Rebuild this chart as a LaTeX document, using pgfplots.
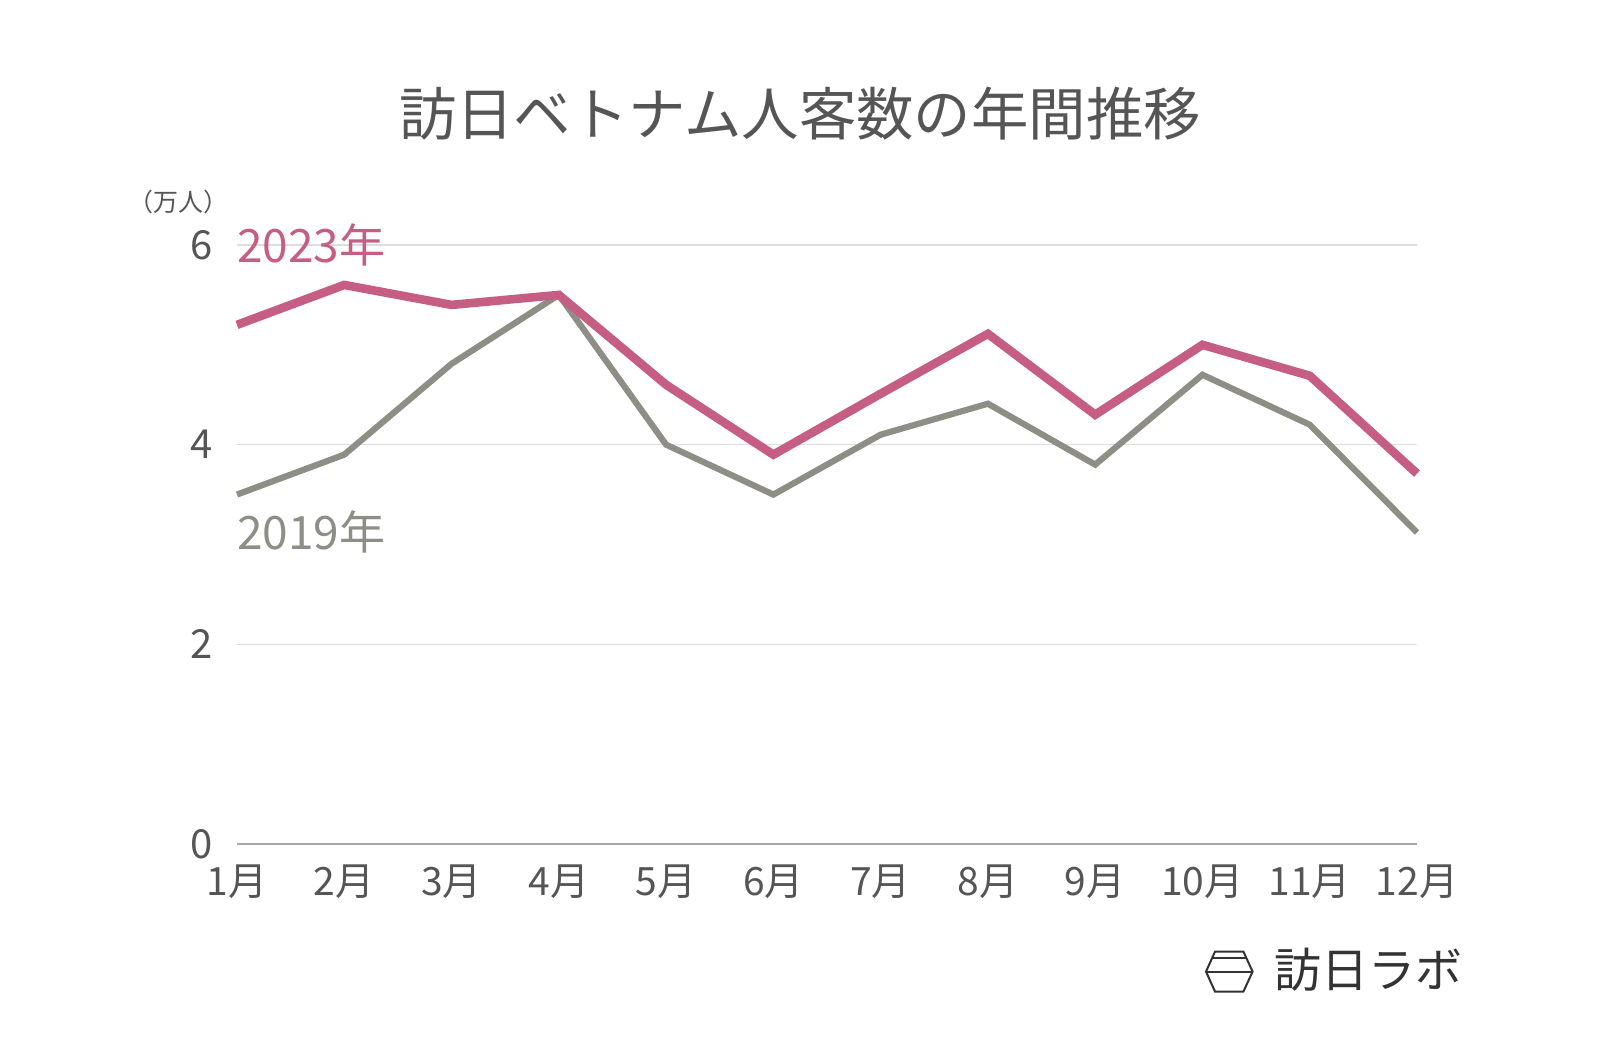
\documentclass[border=0pt]{standalone}
\usepackage{pgfplots}
\pgfplotsset{compat=1.18}
\usepackage{fontspec}
\setmainfont{Noto Sans CJK JP}
\definecolor{pinkline}{HTML}{C55E82}
\definecolor{grayline}{HTML}{8F8E86}
\definecolor{txt}{HTML}{555555}
\definecolor{gridc}{HTML}{DDDDDD}
\definecolor{axisc}{HTML}{A8A8A8}
\definecolor{logoc}{HTML}{333333}
\begin{document}
\begin{tikzpicture}
\path[use as bounding box] (0,0) rectangle (800pt,524pt);
\node[txt, font=\fontsize{28.7pt}{28.7pt}\selectfont] at (400pt,467pt) {訪日ベトナム人客数の年間推移};
\node[txt, font=\fontsize{12.5pt}{12.5pt}\selectfont] at (89pt,423pt) {（万人）};
\begin{axis}[
  at={(118.5pt,102pt)}, anchor=south west,
  scale only axis, width=590pt, height=299.5pt,
  xmin=1, xmax=12, ymin=0, ymax=6,
  clip=false,
  /pgf/number format/assume math mode=true,
  axis line style={draw=none},
  major tick length=0pt,
  xtick={1,...,12},
  xticklabels={1月,2月,3月,4月,5月,6月,7月,8月,9月,10月,11月,12月},
  ytick={2,4,6},
  extra y ticks={0},
  extra y tick style={grid style={axisc, line width=0.8pt}},
  ymajorgrids,
  grid style={gridc, line width=0.6pt},
  yticklabel style={txt, font=\fontsize{20pt}{20pt}\selectfont, anchor=east, inner sep=0pt, xshift=-12pt},
  xticklabel style={txt, font=\fontsize{19.5pt}{19.5pt}\selectfont, anchor=north, inner sep=0pt, yshift=-10pt},
]
\addplot[grayline, line width=3.1pt, line join=miter] coordinates {
(1,3.50) (2,3.90) (3,4.81) (4,5.50) (5,4.00) (6,3.50) (7,4.10) (8,4.41) (9,3.80) (10,4.70) (11,4.20) (12,3.12)};
\addplot[pinkline, line width=4.3pt, line join=miter] coordinates {
(1,5.20) (2,5.60) (3,5.40) (4,5.50) (5,4.60) (6,3.90) (7,4.51) (8,5.11) (9,4.30) (10,5.00) (11,4.69) (12,3.71)};
\node[pinkline, anchor=base west, inner sep=0pt, font=\fontsize{23pt}{23pt}\selectfont] at (axis cs:1,5.82) {2023年};
\node[grayline, anchor=base west, inner sep=0pt, font=\fontsize{23pt}{23pt}\selectfont] at (axis cs:1,2.95) {2019年};
\end{axis}
% logo
\begin{scope}[logoc, line width=1pt, line join=miter]
\draw (603pt,38.2pt) -- (607.5pt,48.2pt) -- (621.7pt,48.2pt) -- (626.3pt,38.2pt) -- (621.7pt,28.2pt) -- (607.5pt,28.2pt) -- cycle;
\draw (606.2pt,45.2pt) -- (623pt,45.2pt);
\draw (603pt,38.2pt) -- (626.3pt,38.2pt);
\end{scope}
\node[logoc, anchor=west, inner sep=0pt, font=\fontsize{23.5pt}{23.5pt}\selectfont] at (637pt,39pt) {訪日ラボ};
\end{tikzpicture}
\end{document}
